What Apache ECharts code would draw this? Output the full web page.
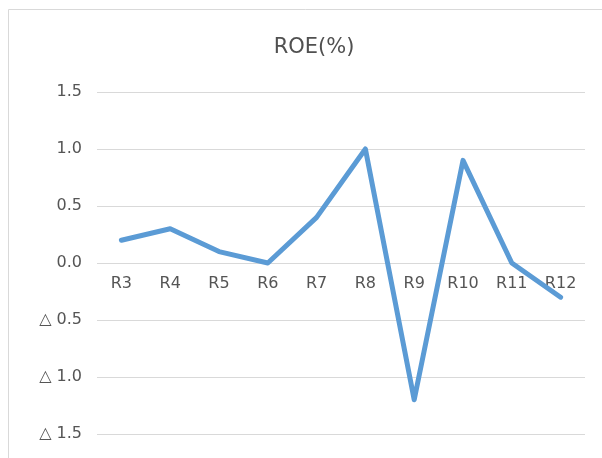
<!DOCTYPE html>
<html>
<head>
<meta charset="utf-8">
<script src="https://cdn.jsdelivr.net/npm/echarts@6/dist/echarts.min.js"></script>
<style>
  html, body { margin: 0; padding: 0; background: #fff; }
  #chart { width: 602px; height: 458px; }
</style>
</head>
<body>
<div id="chart"></div>
<script>
const categories = ["R3", "R4", "R5", "R6", "R7", "R8", "R9", "R10", "R11", "R12"];
const roeValues = [0.2, 0.3, 0.1, 0.0, 0.4, 1.0, -1.2, 0.9, 0.0, -0.3];
const yMin = -1.5;
const yMax = 1.5;
const yStep = 0.5;

const font = "'DejaVu Sans', 'Noto Sans CJK JP', sans-serif";
var chart = echarts.init(document.getElementById("chart"));

function yLabel(v) {
    // negatives are written with a triangle, Japanese style
    if (v < 0) return "\u25B3 " + Math.abs(v).toFixed(1);
    return v.toFixed(1);
}

// grid: top 92, bottom 24 -> zero line sits 171px above the bottom edge
const zeroOffset = -171;

chart.setOption({
    animation: false,
    textStyle: { fontFamily: font },
    graphic: [
        {
            type: "rect",
            shape: { x: 8.5, y: 9.5, width: 620, height: 470 },
            style: { fill: "none", stroke: "#d9d9d9", lineWidth: 1 },
            silent: true,
        },
    ],
    title: {
        text: "ROE(%)",
        left: 309,
        top: 32,
        textAlign: "center",
        textStyle: {
            fontFamily: font,
            fontSize: 21,
            fontWeight: "normal",
            color: "#505050",
        },
    },
    grid: {
        left: 97,
        right: 17,
        top: 92,
        bottom: 24,
    },
    xAxis: {
        type: "category",
        data: categories,
        boundaryGap: true,
        offset: zeroOffset,
        axisLine: { show: false },
        axisTick: { show: false },
        axisLabel: {
            color: "#555555",
            fontSize: 16,
            margin: 13,
            fontFamily: font,
            interval: 0,
        },
    },
    yAxis: {
        type: "value",
        min: yMin,
        max: yMax,
        interval: yStep,
        axisLine: { show: false },
        axisTick: { show: false },
        axisLabel: {
            color: "#555555",
            fontSize: 16,
            margin: 15,
            fontFamily: font,
            formatter: yLabel,
        },
        splitLine: { lineStyle: { color: "#d9d9d9", width: 1 } },
    },
    series: [
        {
            name: "ROE",
            type: "line",
            data: roeValues,
            showSymbol: false,
            z: 3,
            lineStyle: { color: "#5B9BD5", width: 5, cap: "round", join: "round" },
            itemStyle: { color: "#5B9BD5" },
        },
    ],
});
</script>
</body>
</html>
